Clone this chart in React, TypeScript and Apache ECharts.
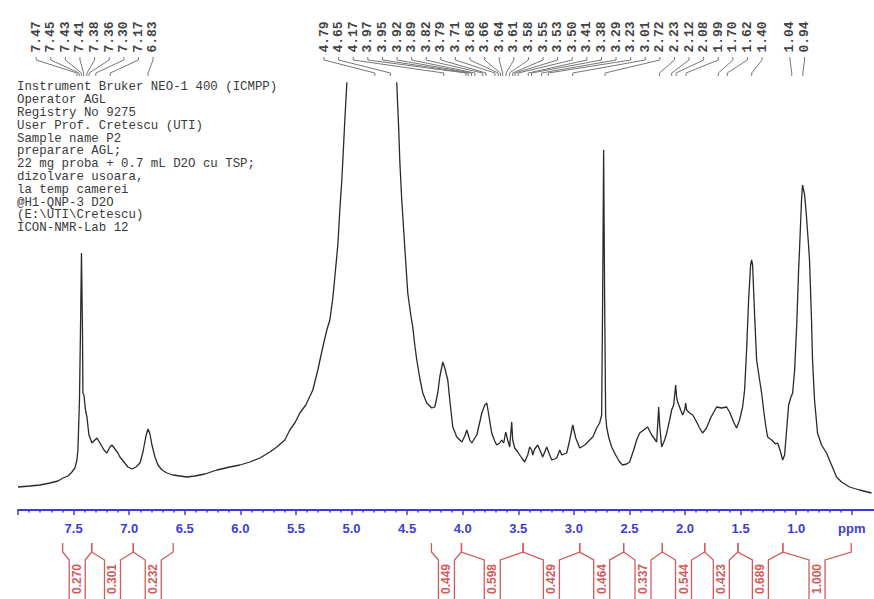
import React, { useEffect, useRef } from "react";
import * as echarts from "echarts";

// ---------- DATA ----------
// Spectrum trace: [ppm, intensity]
const AROMATIC: number[][] = [
  [8.0, 23], [7.892, 24], [7.802, 25], [7.712, 27], [7.64, 29], [7.595, 32], [7.55, 34], [7.515, 38],
  [7.488, 42], [7.47, 50], [7.461, 60], [7.447, 110], [7.438, 180], [7.429, 257], [7.42, 180],
  [7.416, 117], [7.407, 115], [7.393, 100], [7.38, 93], [7.362, 75], [7.335, 67], [7.308, 70],
  [7.29, 72], [7.263, 67], [7.227, 60], [7.2, 57], [7.173, 63], [7.155, 65], [7.128, 61], [7.101, 57],
  [7.083, 53], [7.047, 48], [7.011, 43], [6.975, 41], [6.939, 43], [6.903, 47], [6.876, 58],
  [6.849, 74], [6.831, 81], [6.813, 76], [6.795, 65], [6.768, 53], [6.741, 45], [6.705, 40],
  [6.66, 37], [6.606, 35], [6.544, 34], [6.481, 33], [6.409, 34], [6.319, 36], [6.211, 40],
];
const WATER: number[][] = [
  [6.094, 43], [6.004, 45], [5.914, 48], [5.824, 52], [5.734, 58], [5.672, 63], [5.6, 70],
  [5.555, 80], [5.51, 87], [5.465, 97], [5.411, 105], [5.348, 120], [5.303, 140], [5.258, 163],
  [5.222, 180], [5.195, 190], [5.168, 212], [5.15, 233], [5.123, 265], [5.105, 300], [5.087, 330],
  [5.078, 350], [5.06, 390], [5.042, 427], [5.0, 520], [4.83, 700], [4.65, 520], [4.602, 470],
  [4.593, 427], [4.575, 380], [4.566, 350], [4.548, 310], [4.521, 263], [4.494, 217], [4.467, 195],
  [4.449, 183], [4.431, 165], [4.413, 150], [4.386, 132], [4.359, 117], [4.323, 107], [4.278, 102],
];
const SUGAR: number[][] = [
  [4.251, 103], [4.224, 117], [4.206, 133], [4.179, 148], [4.161, 142], [4.134, 130], [4.116, 110],
  [4.089, 83], [4.053, 73], [4.008, 68], [3.981, 74], [3.963, 80], [3.936, 70], [3.918, 67],
  [3.891, 72], [3.873, 75], [3.846, 88], [3.828, 97], [3.801, 105], [3.783, 107], [3.765, 95],
  [3.739, 77], [3.712, 69], [3.694, 65], [3.667, 67], [3.649, 70], [3.631, 67], [3.613, 78],
  [3.595, 70], [3.577, 63], [3.559, 88], [3.55, 70], [3.532, 62], [3.505, 58], [3.487, 55],
  [3.469, 52], [3.442, 48], [3.415, 55], [3.397, 63], [3.379, 60], [3.37, 55], [3.352, 61],
  [3.325, 65], [3.298, 58], [3.28, 53], [3.262, 58], [3.244, 63], [3.217, 55], [3.199, 50],
  [3.172, 51], [3.154, 52], [3.127, 60], [3.109, 55], [3.064, 57], [3.037, 70], [3.01, 85],
  [2.983, 72], [2.947, 62], [2.902, 65], [2.857, 70], [2.83, 73], [2.794, 82], [2.768, 87],
  [2.75, 95], [2.741, 210], [2.732, 360], [2.723, 210], [2.714, 95], [2.705, 83], [2.687, 73],
  [2.66, 63], [2.624, 55], [2.588, 48], [2.561, 45], [2.525, 46], [2.498, 48],
];
const ALIPHATIC: number[][] = [
  [2.462, 60], [2.435, 70], [2.408, 77], [2.372, 80], [2.336, 83], [2.3, 75], [2.255, 68],
  [2.246, 85], [2.237, 103], [2.228, 85], [2.21, 63], [2.183, 70], [2.165, 77], [2.138, 90],
  [2.12, 100], [2.102, 105], [2.084, 125], [2.075, 112], [2.066, 108], [2.039, 100], [2.021, 95],
  [2.003, 100], [1.994, 107], [1.985, 100], [1.958, 97], [1.931, 95], [1.895, 88], [1.869, 82],
  [1.842, 77], [1.806, 82], [1.77, 92], [1.716, 103], [1.671, 102], [1.626, 103], [1.599, 98],
  [1.563, 88], [1.536, 82], [1.509, 90], [1.482, 103], [1.464, 120], [1.446, 160], [1.428, 210],
  [1.41, 245], [1.401, 250], [1.392, 245], [1.374, 195], [1.356, 150], [1.329, 130], [1.311, 117],
  [1.293, 100], [1.275, 85], [1.257, 73], [1.221, 70], [1.185, 66], [1.167, 67], [1.14, 58],
  [1.122, 50], [1.104, 55], [1.086, 80], [1.068, 105], [1.05, 112], [1.032, 117], [1.014, 140],
  [0.996, 183], [0.978, 240], [0.969, 263], [0.952, 310], [0.943, 325], [0.924, 315], [0.907, 293],
  [0.889, 265], [0.88, 250], [0.862, 190], [0.853, 150], [0.835, 110], [0.808, 77], [0.772, 65],
  [0.727, 57], [0.682, 45], [0.637, 33], [0.592, 28], [0.52, 23], [0.43, 20], [0.322, 17],
];

const PEAKS: number[] = [
  7.47, 7.45, 7.43, 7.41, 7.38, 7.36, 7.30, 7.17, 6.83,
  4.79, 4.65, 4.17, 3.97, 3.95, 3.92, 3.89, 3.82, 3.79, 3.71, 3.68, 3.66, 3.64, 3.61, 3.58,
  3.55, 3.53, 3.50, 3.41, 3.38, 3.29, 3.23, 3.01, 2.72, 2.23, 2.12, 2.08, 1.99, 1.70, 1.62, 1.40,
  1.04, 0.94,
];

const INTEGRAL_RANGES: number[][] = [
  [7.598, 7.337], [7.337, 6.963], [6.963, 6.604],
  [4.281, 4.011], [4.011, 3.457], [3.457, 2.947], [2.947, 2.552], [2.552, 2.204],
  [2.204, 1.823], [1.823, 1.524], [1.524, 1.12], [1.12, 0.505],
];
const INTEGRAL_VALUES: number[] = [0.270, 0.301, 0.232, 0.449, 0.598, 0.429, 0.464, 0.337, 0.544, 0.423, 0.689, 1.000];

const MAJOR_TICKS: number[] = [8.0, 7.5, 7.0, 6.5, 6.0, 5.5, 5.0, 4.5, 4.0, 3.5, 3.0, 2.5, 2.0, 1.5, 1.0, 0.5];
const TICK_LABELS: number[] = [7.5, 7.0, 6.5, 6.0, 5.5, 5.0, 4.5, 4.0, 3.5, 3.0, 2.5, 2.0, 1.5, 1.0, 0.5];

const INFO_LINES: string[] = [
  "Instrument Bruker NEO-1 400 (ICMPP)",
  "Operator AGL",
  "Registry No 9275",
  "User Prof. Cretescu (UTI)",
  "Sample name P2",
  "preparare AGL;",
  "22 mg proba + 0.7 mL D2O cu TSP;",
  "dizolvare usoara,",
  "la temp camerei",
  "@H1-QNP-3 D2O",
  "(E:\\UTI\\Cretescu)",
  "ICON-NMR-Lab 12",
];

const X_MIN = 0.3;
const X_MAX = 8.0;
const Y_MAX = 427;

// ---------- helpers ----------
const BLUE = "#3c3cd6";
const RED = "#d45a5a";
const LABEL_SPACING = 14.6;

function minorTicks(): number[] {
  const out: number[] = [];
  for (let k = 5; k <= 80; k++) {
    if (k % 5 !== 0) out.push(k / 10);
  }
  return out;
}

function declutter(xs: number[], s: number): number[] {
  let clusters = xs.map((x, i) => ({ first: i, last: i, sum: x }));
  let changed = true;
  while (changed) {
    changed = false;
    for (let k = 0; k < clusters.length - 1; k++) {
      const a = clusters[k];
      const b = clusters[k + 1];
      const na = a.last - a.first + 1;
      const nb = b.last - b.first + 1;
      const aRight = a.sum / na + ((na - 1) * s) / 2;
      const bLeft = b.sum / nb - ((nb - 1) * s) / 2;
      if (bLeft - aRight < s) {
        clusters.splice(k, 2, { first: a.first, last: b.last, sum: a.sum + b.sum });
        changed = true;
        break;
      }
    }
  }
  const out: number[] = [];
  clusters.forEach((c) => {
    const n = c.last - c.first + 1;
    const c0 = c.sum / n - ((n - 1) * s) / 2;
    for (let j = 0; j < n; j++) out[c.first + j] = c0 + j * s;
  });
  return out;
}

export default function App() {
  const ref = useRef<HTMLDivElement>(null);

  useEffect(() => {
    if (!ref.current) return;
    const chart = echarts.init(ref.current, undefined, { renderer: "svg" });
    const spectrum = [...AROMATIC, ...WATER, ...SUGAR, ...ALIPHATIC];

    const option: any = {
      animation: false,
      backgroundColor: "#ffffff",
      grid: [
        { left: 18, right: 0, top: 83, bottom: 89 },
        { left: 18, right: 0, top: 543, bottom: 0 },
      ],
      xAxis: [
        {
          type: "value",
          gridIndex: 0,
          min: X_MIN,
          max: X_MAX,
          inverse: true,
          position: "bottom",
          splitLine: { show: false },
          axisLine: { show: true, onZero: false, lineStyle: { color: BLUE, width: 2 } },
          axisTick: { show: true, length: 5, customValues: MAJOR_TICKS, lineStyle: { color: BLUE, width: 1.5 } },
          axisLabel: {
            color: BLUE,
            fontWeight: "bold",
            fontSize: 13,
            fontFamily: "Arial, 'Liberation Sans', sans-serif",
            margin: 12,
            customValues: TICK_LABELS,
            formatter: (v: number) => (Math.abs(v - 0.5) < 1e-6 ? "ppm" : v.toFixed(1)),
          },
        },
        { type: "value", gridIndex: 1, min: X_MIN, max: X_MAX, inverse: true, show: false },
        {
          type: "value",
          gridIndex: 0,
          min: X_MIN,
          max: X_MAX,
          inverse: true,
          position: "bottom",
          splitLine: { show: false },
          axisLine: { show: false, onZero: false },
          axisTick: { show: true, length: 2.5, customValues: minorTicks(), lineStyle: { color: BLUE, width: 1.5 } },
          axisLabel: { show: false },
        },
      ],
      yAxis: [
        { type: "value", gridIndex: 0, min: 0, max: Y_MAX, show: false },
        { type: "value", gridIndex: 1, min: 0, max: 1, show: false },
      ],
      graphic: [
        {
          type: "text",
          left: 17,
          top: 81,
          style: {
            text: INFO_LINES.join("\n"),
            font: '12.4px "Liberation Mono", "DejaVu Sans Mono", monospace',
            lineHeight: 12.8,
            fill: "#3a3a3a",
          },
        },
      ],
      series: [
        {
          type: "line",
          xAxisIndex: 0,
          yAxisIndex: 0,
          data: spectrum,
          showSymbol: false,
          clip: true,
          lineStyle: { color: "#2a2a2a", width: 1.3 },
          silent: true,
        },
        {
          type: "custom",
          xAxisIndex: 0,
          yAxisIndex: 0,
          clip: false,
          silent: true,
          data: PEAKS.map((p) => [p, 0]),
          renderItem: (params: any, api: any) => {
            const cs = params.coordSys;
            const pxs = PEAKS.map((p) => api.coord([p, 0])[0]);
            const lxs = declutter(pxs, LABEL_SPACING);
            const i = params.dataIndex;
            const top = cs.y;
            return {
              type: "group",
              children: [
                {
                  type: "text",
                  x: lxs[i],
                  y: top - 46,
                  rotation: Math.PI / 2,
                  style: {
                    text: PEAKS[i].toFixed(2),
                    font: 'bold 13px "Liberation Mono", monospace',
                    fill: "#444444",
                    align: "center",
                    verticalAlign: "middle",
                  },
                },
                {
                  type: "polyline",
                  shape: {
                    points: [
                      [lxs[i], top - 26],
                      [lxs[i], top - 23],
                      [pxs[i], top - 10],
                      [pxs[i], top - 7],
                    ],
                  },
                  style: { stroke: "#777777", lineWidth: 1, fill: "none" },
                },
              ],
            };
          },
        },
        {
          type: "custom",
          xAxisIndex: 1,
          yAxisIndex: 1,
          clip: false,
          silent: true,
          data: INTEGRAL_RANGES.map((r, i) => [r[0], r[1], INTEGRAL_VALUES[i]]),
          renderItem: (params: any, api: any) => {
            const cs = params.coordSys;
            const xa = api.coord([api.value(0), 0])[0];
            const xb = api.coord([api.value(1), 0])[0];
            const val = api.value(2);
            const top = cs.y;
            const bottom = cs.y + cs.height;
            const cx = (xa + xb) / 2;
            const h = 8;
            const st = { stroke: RED, lineWidth: 1.3, fill: "none" };
            return {
              type: "group",
              children: [
                {
                  type: "polyline",
                  shape: { points: [[xa, top], [xa, top + 9], [cx - h, top + 17], [cx - h, bottom]] },
                  style: st,
                },
                {
                  type: "polyline",
                  shape: { points: [[xb, top], [xb, top + 9], [cx + h, top + 17], [cx + h, bottom]] },
                  style: st,
                },
                {
                  type: "text",
                  x: cx,
                  y: top + 36,
                  rotation: Math.PI / 2,
                  style: {
                    text: Number(val).toFixed(3),
                    font: "bold 12px Arial, 'Liberation Sans', sans-serif",
                    fill: RED,
                    align: "center",
                    verticalAlign: "middle",
                  },
                },
              ],
            };
          },
        },
      ],
    };

    chart.setOption(option);
    return () => chart.dispose();
  }, []);

  return (
    <div
      ref={ref}
      style={{ position: "absolute", left: 0, top: 0, width: 874, height: 599, background: "#fff" }}
    />
  );
}
